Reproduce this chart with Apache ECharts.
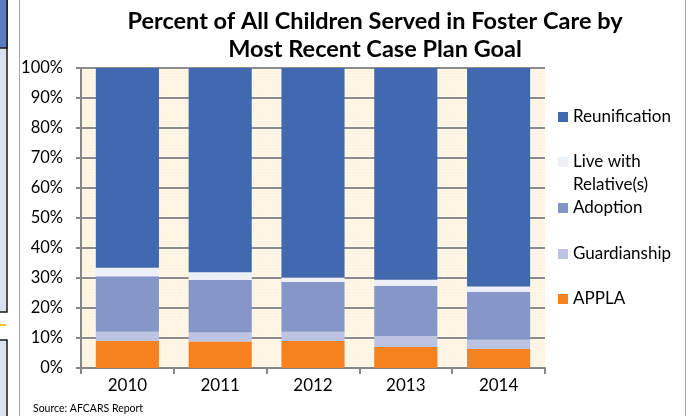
<!DOCTYPE html>
<html>
<head>
<meta charset="utf-8">
<script src="https://cdn.jsdelivr.net/npm/echarts@6/dist/echarts.min.js"></script>
<style>
html,body{margin:0;padding:0;background:#fff;}
#c{width:691px;height:416px;}
</style>
</head>
<body>
<div id="c"></div>
<script>
var years = ['2010', '2011', '2012', '2013', '2014'];
var applaVals = [9.0, 8.8, 9.0, 7.0, 6.3];
var guardianshipVals = [3.1, 3.0, 3.1, 3.7, 3.1];
var adoptionVals = [18.5, 17.5, 16.6, 16.7, 16.0];
var relativeVals = [2.8, 2.6, 1.5, 2.0, 1.8];
var reunificationVals = [66.6, 68.1, 69.8, 70.6, 72.8];
var yTicks = [0, 10, 20, 30, 40, 50, 60, 70, 80, 90, 100];

var FONT = 'Lato';
var colors = {
  'Reunification': '#4169B0',
  'Live with Relative(s)': '#EEF0F8',
  'Adoption': '#8596C9',
  'Guardianship': '#BCC3E3',
  'APPLA': '#F5821F'
};

// background pattern
var pc = document.createElement('canvas');
pc.width = 6; pc.height = 6;
var pctx = pc.getContext('2d');
pctx.fillStyle = '#FDF3DE';
pctx.fillRect(0, 0, 6, 6);
pctx.fillStyle = '#FFFAF0';
for (var i = 0; i < 6; i += 2) { pctx.fillRect(i, 0, 1, 1); pctx.fillRect(0, i, 1, 1); pctx.fillRect(i, 3, 1, 1); pctx.fillRect(3, i, 1, 1); }

var chart = echarts.init(document.getElementById('c'));

function mkSeries(name, vals) {
  return {
    name: name, type: 'bar', stack: 'all', data: vals,
    barCategoryGap: '32%',
    itemStyle: { color: colors[name] },
    emphasis: { disabled: true }
  };
}

function mkLegend(name, top, multi) {
  return {
    data: [name], left: 558, top: top, padding: 0,
    itemWidth: 10, itemHeight: 10, itemGap: 0, icon: 'rect',
    selectedMode: false,
    formatter: multi ? function () { return '\nLive with\nRelative(s)'; } : '{name}',
    textStyle: { fontFamily: FONT, fontSize: 17, color: '#000', lineHeight: multi ? 23 : 20 }
  };
}

chart.setOption({
  animation: false,
  backgroundColor: '#fff',
  title: {
    text: 'Percent of All Children Served in Foster Care by\nMost Recent Case Plan Goal',
    left: 370, top: 2, textAlign: 'center',
    textStyle: { fontFamily: FONT, fontWeight: 'bold', fontSize: 23.5, lineHeight: 28, color: '#000' }
  },
  legend: [
    mkLegend('Reunification', 107),
    mkLegend('Live with Relative(s)', 127.5, true),
    mkLegend('Adoption', 198),
    mkLegend('Guardianship', 244),
    mkLegend('APPLA', 289)
  ],
  grid: {
    left: 81, right: 146, top: 68, bottom: 48,
    show: true, borderWidth: 0,
    backgroundColor: { image: pc, repeat: 'repeat' }
  },
  xAxis: {
    type: 'category', data: years,
    axisLine: { lineStyle: { color: '#868686', width: 2 } },
    axisTick: { show: true, length: 6, lineStyle: { color: '#868686', width: 2 } },
    axisLabel: { fontFamily: FONT, fontSize: 17, color: '#000', margin: 9 }
  },
  yAxis: {
    type: 'value', min: yTicks[0], max: yTicks[yTicks.length - 1], interval: 10,
    axisLine: { show: true, lineStyle: { color: '#868686', width: 2 } },
    axisTick: { show: true, length: 5, lineStyle: { color: '#868686', width: 2 } },
    axisLabel: { fontFamily: FONT, fontSize: 16.5, color: '#000', margin: 18, formatter: '{value}%' },
    splitLine: { show: true, lineStyle: { color: '#8C8C8C', width: 2 } }
  },
  graphic: [
    { type: 'rect', shape: { x: -2, y: -2, width: 9, height: 314 }, style: { fill: '#DCE1F1', stroke: '#1a1a1a', lineWidth: 1.5 }, silent: true },
    { type: 'rect', shape: { x: -2, y: -2, width: 9, height: 50 }, style: { fill: '#5A7BC2', stroke: '#1a1a1a', lineWidth: 1.5 }, silent: true },
    { type: 'line', shape: { x1: 0, y1: 325, x2: 6, y2: 325 }, style: { stroke: '#F9C02A', lineWidth: 2 }, silent: true },
    { type: 'rect', shape: { x: -2, y: 340, width: 9, height: 80 }, style: { fill: '#DCE1F1', stroke: '#1a1a1a', lineWidth: 1.5 }, silent: true },
    { type: 'line', shape: { x1: 19.5, y1: 0, x2: 19.5, y2: 416 }, style: { stroke: '#A6A6A6', lineWidth: 1 }, silent: true },
    { type: 'line', shape: { x1: 685.5, y1: 0, x2: 685.5, y2: 416 }, style: { stroke: '#A6A6A6', lineWidth: 1 }, silent: true },
    { type: 'text', left: 33, top: 403, style: { text: 'Source: AFCARS Report', fontFamily: FONT, fontSize: 10.5, fill: '#000' }, silent: true }
  ],
  series: [
    mkSeries('APPLA', applaVals),
    mkSeries('Guardianship', guardianshipVals),
    mkSeries('Adoption', adoptionVals),
    mkSeries('Live with Relative(s)', relativeVals),
    mkSeries('Reunification', reunificationVals)
  ]
});
</script>
</body>
</html>
